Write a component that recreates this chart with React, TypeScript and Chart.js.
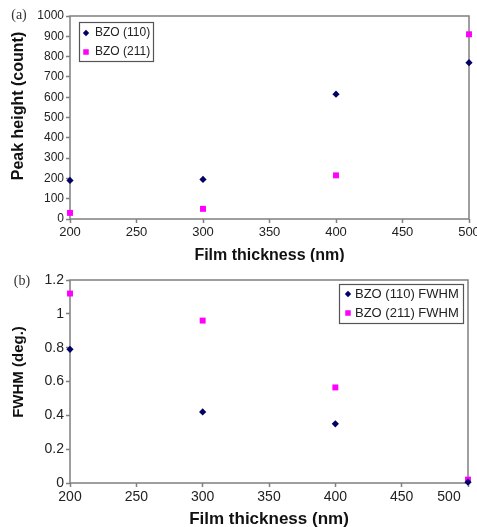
import React, { useEffect, useRef } from "react";
import { Chart, registerables } from "chart.js";

Chart.register(...registerables);

// ---- data ----
const thicknessA = [200, 300, 400, 500];
const peak110 = [190, 195, 615, 770];
const peak211 = [30, 50, 215, 910];
const legendA = ["BZO (110)", "BZO (211)"];

const thicknessB = [200, 300, 400, 500];
const fwhm110 = [0.79, 0.42, 0.35, 0.005];
const fwhm211 = [1.12, 0.96, 0.565, 0.02];
const legendB = ["BZO (110) FWHM", "BZO (211) FWHM"];

const xTicksMin = 200;
const xTicksMax = 500;
const xStep = 50;

const NAVY = "#000066";
const MAGENTA = "#ff00ff";
const SANS = "'Liberation Sans', Arial, sans-serif";
const AXIS = "#7f7f7f";
const TEXT = "#222222";

type Panel = {
  H: number;
  padTop: number;
  padRight: number;
  xAxisH: number;
  xs: number[];
  s1: number[];
  s2: number[];
  names: string[];
  yMax: number;
  yStep: number;
  yTickFont: number;
  xTickFont: number;
  yTitle: string;
  yTitleFont: number;
  yTitleCenter: [number, number];
  xTitle: string;
  xTitleFont: number;
  xTitleY: number;
  tag: string;
  tagPos: [number, number];
  legendBox: [number, number, number, number];
  legendY: [number, number];
  markerX: number;
  textX: number;
  legendFont: number;
  lastLabelShift: number;
};

function fmt(v: any) {
  return String(Number(Number(v).toFixed(3)));
}

function drawDiamond(ctx: CanvasRenderingContext2D, x: number, y: number, r: number) {
  ctx.beginPath();
  ctx.moveTo(x, y - r);
  ctx.lineTo(x + r, y);
  ctx.lineTo(x, y + r);
  ctx.lineTo(x - r, y);
  ctx.closePath();
  ctx.fillStyle = NAVY;
  ctx.fill();
}

function drawSquare(ctx: CanvasRenderingContext2D, x: number, y: number, s: number) {
  ctx.fillStyle = MAGENTA;
  ctx.fillRect(x - s / 2, y - s / 2, s, s);
}

function makeChart(canvas: HTMLCanvasElement, p: Panel) {
  const decor = {
    id: "decor" + p.tag,
    beforeDraw(chart: any) {
      if (p.lastLabelShift) {
        const xs = chart.scales.x;
        const items = xs.getLabelItems(chart.chartArea);
        const last = items[items.length - 1];
        if (last) last.options.translation[0] = xs.getPixelForValue(xTicksMax) - p.lastLabelShift;
      }
    },
    beforeDatasetsDraw(chart: any) {
      const { ctx, chartArea: a } = chart;
      ctx.save();
      ctx.strokeStyle = AXIS;
      ctx.lineWidth = 1.5;
      ctx.strokeRect(a.left, a.top, a.right - a.left, a.bottom - a.top);
      ctx.restore();
    },
    afterDraw(chart: any) {
      const { ctx, chartArea: a } = chart;
      ctx.save();
      // panel tag
      ctx.fillStyle = "#333";
      ctx.font = "14px 'Liberation Serif', 'Times New Roman', serif";
      ctx.textAlign = "center";
      ctx.textBaseline = "middle";
      ctx.fillText(p.tag, p.tagPos[0], p.tagPos[1]);
      // y title
      ctx.save();
      ctx.translate(p.yTitleCenter[0], p.yTitleCenter[1]);
      ctx.rotate(-Math.PI / 2);
      ctx.fillStyle = "#111";
      ctx.font = `bold ${p.yTitleFont}px ${SANS}`;
      ctx.fillText(p.yTitle, 0, 0);
      ctx.restore();
      // x title
      ctx.fillStyle = "#111";
      ctx.font = `bold ${p.xTitleFont}px ${SANS}`;
      ctx.fillText(p.xTitle, (a.left + a.right) / 2, p.xTitleY);
      // legend
      const [bx, by, bw, bh] = p.legendBox;
      ctx.fillStyle = "#fff";
      ctx.fillRect(bx, by, bw, bh);
      ctx.strokeStyle = "#555";
      ctx.lineWidth = 1.2;
      ctx.strokeRect(bx + 0.5, by + 0.5, bw, bh);
      ctx.beginPath();
      ctx.rect(bx + 1, by + 1, bw - 1, bh - 1);
      ctx.clip();
      drawDiamond(ctx, p.markerX, p.legendY[0], 3.2);
      drawSquare(ctx, p.markerX, p.legendY[1], 5.5);
      ctx.fillStyle = TEXT;
      ctx.font = `${p.legendFont}px ${SANS}`;
      ctx.textAlign = "left";
      ctx.fillText(p.names[0], p.textX, p.legendY[0]);
      ctx.fillText(p.names[1], p.textX, p.legendY[1]);
      ctx.restore();
    },
  };

  return new Chart(canvas, {
    type: "scatter",
    data: {
      datasets: [
        {
          label: p.names[0],
          data: p.xs.map((x, i) => ({ x, y: p.s1[i] })),
          pointStyle: "rectRot",
          pointRadius: 3.6,
          backgroundColor: NAVY,
          borderColor: NAVY,
          borderWidth: 0,
          clip: false,
        },
        {
          label: p.names[1],
          data: p.xs.map((x, i) => ({ x, y: p.s2[i] })),
          pointStyle: "rect",
          pointRadius: 4.2,
          backgroundColor: MAGENTA,
          borderColor: MAGENTA,
          borderWidth: 0,
          clip: false,
        },
      ] as any,
    },
    options: {
      animation: false,
      responsive: false,
      maintainAspectRatio: false,
      events: [],
      layout: { padding: { left: 0, top: p.padTop, right: p.padRight, bottom: 0 } },
      plugins: { legend: { display: false }, tooltip: { enabled: false } },
      scales: {
        x: {
          type: "linear",
          min: xTicksMin,
          max: xTicksMax,
          border: { display: false },
          grid: {
            display: true,
            drawOnChartArea: false,
            drawTicks: true,
            tickLength: 4,
            tickColor: AXIS,
            tickWidth: 1.5,
          },
          ticks: {
            stepSize: xStep,
            autoSkip: false,
            maxRotation: 0,
            padding: 2,
            color: TEXT,
            font: { family: SANS, size: p.xTickFont },
            callback: (v: any) => fmt(v),
          },
          afterFit(s: any) {
            s.height = p.xAxisH;
            s.paddingLeft = 0;
            s.paddingRight = 0;
          },
        },
        y: {
          type: "linear",
          min: 0,
          max: p.yMax,
          border: { display: false },
          grid: {
            display: true,
            drawOnChartArea: false,
            drawTicks: true,
            tickLength: 4,
            tickColor: AXIS,
            tickWidth: 1.5,
          },
          ticks: {
            stepSize: p.yStep,
            autoSkip: false,
            padding: 2,
            color: TEXT,
            font: { family: SANS, size: p.yTickFont },
            callback: (v: any) => fmt(v),
          },
          afterFit(s: any) {
            s.width = 70;
            s.paddingTop = 0;
            s.paddingBottom = 0;
          },
        },
      },
    },
    plugins: [decor],
  } as any);
}

const panelA: Panel = {
  H: 262,
  padTop: 16,
  padRight: 8,
  xAxisH: 43,
  xs: thicknessA,
  s1: peak110,
  s2: peak211,
  names: legendA,
  yMax: 1000,
  yStep: 100,
  yTickFont: 12,
  xTickFont: 13,
  yTitle: "Peak height (count)",
  yTitleFont: 16,
  yTitleCenter: [19, 106],
  xTitle: "Film thickness (nm)",
  xTitleFont: 16,
  xTitleY: 256,
  tag: "(a)",
  tagPos: [19, 15],
  legendBox: [79, 22, 74, 39],
  legendY: [33, 52],
  markerX: 86,
  textX: 95,
  legendFont: 12,
  lastLabelShift: 0,
};

const panelB: Panel = {
  H: 265,
  padTop: 18,
  padRight: 9,
  xAxisH: 44,
  xs: thicknessB,
  s1: fwhm110,
  s2: fwhm211,
  names: legendB,
  yMax: 1.2,
  yStep: 0.2,
  yTickFont: 14,
  xTickFont: 14,
  yTitle: "FWHM (deg.)",
  yTitleFont: 15,
  yTitleCenter: [19, 110],
  xTitle: "Film thickness (nm)",
  xTitleFont: 17,
  xTitleY: 257,
  tag: "(b)",
  tagPos: [22, 19],
  legendBox: [339, 22, 124, 39],
  legendY: [32, 51],
  markerX: 348,
  textX: 355,
  legendFont: 13,
  lastLabelShift: 19,
};

export default function App() {
  const refA = useRef<HTMLCanvasElement>(null);
  const refB = useRef<HTMLCanvasElement>(null);
  useEffect(() => {
    const a = makeChart(refA.current!, panelA);
    const b = makeChart(refB.current!, panelB);
    return () => {
      a.destroy();
      b.destroy();
    };
  }, []);
  return (
    <div style={{ position: "fixed", left: 0, top: 0, width: 477, height: 527, background: "#fff" }}>
      <canvas ref={refA} width={477} height={262} style={{ display: "block", width: 477, height: 262 }} />
      <canvas ref={refB} width={477} height={265} style={{ display: "block", width: 477, height: 265 }} />
    </div>
  );
}
